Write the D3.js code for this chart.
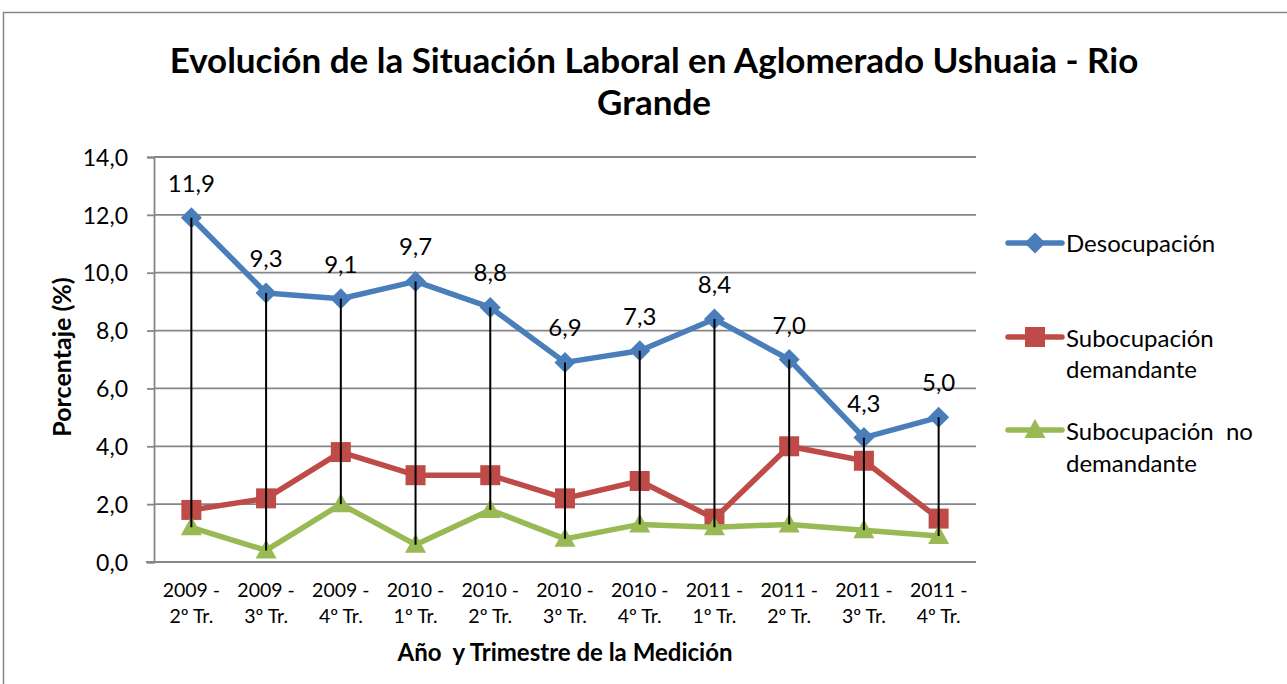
<!DOCTYPE html>
<html><head><meta charset="utf-8">
<script src="https://cdn.jsdelivr.net/npm/d3@7"></script>
<style>body{margin:0;background:#fff}svg{display:block}text{font-family:Lato,"Noto Sans",sans-serif;white-space:pre}</style>
</head><body><svg id="c" width="1287" height="684"></svg>
<script>
const categories = [["2009 -","2º Tr."],["2009 -","3º Tr."],["2009 -","4º Tr."],["2010 -","1º Tr."],["2010 -","2º Tr."],["2010 -","3º Tr."],["2010 -","4º Tr."],["2011 -","1º Tr."],["2011 -","2º Tr."],["2011 -","3º Tr."],["2011 -","4º Tr."]];
const desocupacion = [11.9,9.3,9.1,9.7,8.8,6.9,7.3,8.4,7.0,4.3,5.0];
const subDemandante = [1.8,2.2,3.8,3.0,3.0,2.2,2.8,1.5,4.0,3.5,1.5];
const subNoDemandante = [1.2,0.4,2.0,0.6,1.8,0.8,1.3,1.2,1.3,1.1,0.9];
const yTicks = [0,2,4,6,8,10,12,14];
const seriesNames = [["Desocupación"],["Subocupación","demandante"],["Subocupación  no","demandante"]];

const svg = d3.select("#c");
const L=154, R=976, T=157, B=562;
const x = d3.scaleBand().domain(d3.range(categories.length)).range([L,R]);
const y = d3.scaleLinear().domain([0,14]).range([B,T]);
const fmt = v => d3.format(".1f")(v).replace(".",",");

// outer border
svg.append("rect").attr("x",3.5).attr("y",12.5).attr("width",1290).attr("height",700)
  .attr("fill","none").attr("stroke","#868686").attr("stroke-width",1.5);

// title
const title = svg.append("text").attr("text-anchor","middle").attr("font-weight","bold").attr("font-size",35).attr("fill","#000");
title.append("tspan").attr("x",654).attr("y",73).text("Evolución de la Situación Laboral en Aglomerado Ushuaia - Rio");
title.append("tspan").attr("x",654).attr("y",115).text("Grande");

// gridlines
svg.append("g").selectAll("line").data(yTicks.filter(d=>d>0)).join("line")
  .attr("x1",L).attr("x2",R).attr("y1",d=>y(d)).attr("y2",d=>y(d))
  .attr("stroke","#868686").attr("stroke-width",1.8);

// y axis
const yAxis = svg.append("g").attr("transform",`translate(${L},0)`)
  .call(d3.axisLeft(y).tickValues(yTicks).tickFormat(fmt).tickSize(7).tickPadding(19));
yAxis.select(".domain").attr("stroke","#868686").attr("stroke-width",1.8);
yAxis.selectAll(".tick line").attr("stroke","#868686").attr("stroke-width",1.8);
yAxis.selectAll(".tick text").attr("font-size",23).attr("fill","#000").attr("font-family","Lato").attr("dy","0.36em");

// x axis
const xAxis = svg.append("g").attr("transform",`translate(0,${B})`)
  .call(d3.axisBottom(x).tickSize(0).tickFormat(""));
xAxis.select(".domain").attr("stroke","#868686").attr("stroke-width",1.8).attr("d",`M${L-8},0H${R}`);
xAxis.selectAll(".tick").each(function(d){
  const t=d3.select(this).append("text").attr("text-anchor","middle").attr("font-size",19.5).attr("fill","#000");
  t.append("tspan").attr("x",0).attr("y",35).text(categories[d][0]);
  t.append("tspan").attr("x",0).attr("y",61).text(categories[d][1]);
});

// axis titles
svg.append("text").attr("transform","translate(71,357) rotate(-90)").attr("text-anchor","middle")
  .attr("font-weight","bold").attr("font-size",25).text("Porcentaje (%)");
svg.append("text").attr("x",565).attr("y",661).attr("text-anchor","middle")
  .attr("font-weight","bold").attr("font-size",24).text("Año  y Trimestre de la Medición");

const cx = i => x(i)+x.bandwidth()/2;
const colors = ["#4a7ebb","#be4b48","#98b954"];
const data = [desocupacion, subDemandante, subNoDemandante];
const line = d3.line().x((d,i)=>cx(i)).y(d=>y(d));

function marker(g, type, px, py, col){
  if(type===0) g.append("path").attr("d",`M${px},${py-10.5}L${px+10.5},${py}L${px},${py+10.5}L${px-10.5},${py}Z`).attr("fill",col);
  else if(type===1) g.append("rect").attr("x",px-10).attr("y",py-10).attr("width",20).attr("height",20).attr("fill",col);
  else g.append("path").attr("d",`M${px},${py-11}L${px+10.5},${py+8}L${px-10.5},${py+8}Z`).attr("fill",col);
}

const sg = svg.append("g");
data.forEach((s,k)=>{
  sg.append("path").datum(s).attr("d",line).attr("fill","none").attr("stroke",colors[k]).attr("stroke-width",5.5).attr("stroke-linejoin","round");
  s.forEach((v,i)=>marker(sg,k,cx(i),y(v),colors[k]));
});

// high-low lines
svg.append("g").selectAll("line").data(d3.range(categories.length)).join("line")
  .attr("x1",i=>cx(i)).attr("x2",i=>cx(i))
  .attr("y1",i=>y(d3.max(data,s=>s[i]))).attr("y2",i=>y(d3.min(data,s=>s[i])))
  .attr("stroke","#000").attr("stroke-width",2);

// data labels
svg.append("g").selectAll("text").data(desocupacion).join("text")
  .attr("x",(d,i)=>cx(i)).attr("y",d=>y(d)-26).attr("text-anchor","middle")
  .attr("font-size",24).attr("fill","#000").text(fmt);

// legend
const legLine = [243,337,430];
const legText = [[252],[347,378],[440,472]];
seriesNames.forEach((nm,k)=>{
  const ly = legLine[k];
  svg.append("line").attr("x1",1008).attr("x2",1062).attr("y1",ly).attr("y2",ly).attr("stroke",colors[k]).attr("stroke-width",5.5).attr("stroke-linecap","round");
  marker(svg,k,1035,ly,colors[k]);
  nm.forEach((t,j)=>svg.append("text").attr("x",1066).attr("y",legText[k][j]).attr("font-size",24).attr("fill","#000").text(t));
});
</script></body></html>
